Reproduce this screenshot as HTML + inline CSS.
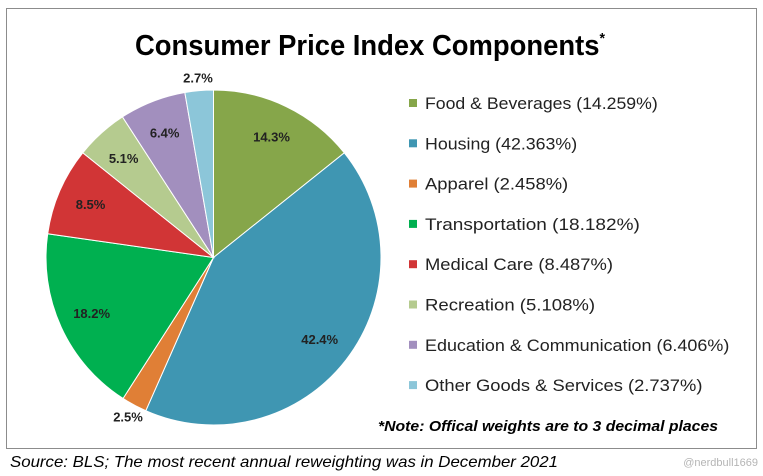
<!DOCTYPE html>
<html><head><meta charset="utf-8"><style>
body{margin:0;width:763px;height:471px;background:#fff;overflow:hidden;font-family:"Liberation Sans",sans-serif}
</style></head><body>
<svg width="763" height="471">
<rect x="6.5" y="8.5" width="750" height="440" fill="#fff" stroke="#8c8c8c"/>
<text x="370" y="55" text-anchor="middle" font-size="29" font-weight="bold" fill="#000" textLength="470" lengthAdjust="spacingAndGlyphs">Consumer Price Index Components<tspan font-size="15" dy="-12">*</tspan></text>
<g id="pie"></g>
<g id="legend"></g>
<text x="378" y="431" font-size="15" font-weight="bold" font-style="italic" fill="#000" textLength="340" lengthAdjust="spacingAndGlyphs">*Note: Offical weights are to 3 decimal places</text>
<text x="10" y="467" font-size="16" font-style="italic" fill="#000" textLength="548" lengthAdjust="spacingAndGlyphs">Source: BLS; The most recent annual reweighting was in December 2021</text>
<text x="758" y="466" font-size="11" fill="#b5b5b5" text-anchor="end">@nerdbull1669</text>
</svg>
<script>
const categories=["Food & Beverages","Housing","Apparel","Transportation","Medical Care","Recreation","Education & Communication","Other Goods & Services"];
const weights=[14.259,42.363,2.458,18.182,8.487,5.108,6.406,2.737];
const colors=["#86a64a","#3f96b2","#e07f36","#00b050","#d13536","#b5cb8f","#a28fbe","#8cc6d9"];
const NS="http://www.w3.org/2000/svg";
const cx=213.5,cy=257.5,r=167.5;
const total=weights.reduce((a,b)=>a+b,0);
const pie=document.getElementById('pie'),leg=document.getElementById('legend');
let a0=0;
function pt(a,rr){return [cx+rr*Math.sin(a),cy-rr*Math.cos(a)];}
weights.forEach((w,i)=>{
  const a1=a0+w/total*2*Math.PI;
  const p0=pt(a0,r),p1=pt(a1,r);
  const path=document.createElementNS(NS,'path');
  path.setAttribute('d',`M${cx},${cy}L${p0[0]},${p0[1]}A${r},${r} 0 ${a1-a0>Math.PI?1:0} 1 ${p1[0]},${p1[1]}Z`);
  path.setAttribute('fill',colors[i]);path.setAttribute('stroke','#fff');path.setAttribute('stroke-width','1');
  
  
  pie.appendChild(path);
  const am=(a0+a1)/2;
  const outside=w<3;
  const lp=pt(am,outside?r+13:r*0.8);
  const t=document.createElementNS(NS,'text');
  t.setAttribute('x',lp[0]);t.setAttribute('y',lp[1]+5);t.setAttribute('text-anchor','middle');
  t.setAttribute('font-size','13');t.setAttribute('font-weight','bold');t.setAttribute('fill','#222');
  t.textContent=(Math.round(w*10)/10).toFixed(1)+'%';
  
  
  pie.appendChild(t);
  a0=a1;
  const y=103+i*40.3;
  const sq=document.createElementNS(NS,'rect');
  sq.setAttribute('x',409);sq.setAttribute('y',y-4);sq.setAttribute('width',8);sq.setAttribute('height',8);sq.setAttribute('fill',colors[i]);
  
  
  leg.appendChild(sq);
  const lt=document.createElementNS(NS,'text');
  lt.setAttribute('x',425);lt.setAttribute('y',y+6);lt.setAttribute('font-size','17');lt.setAttribute('fill','#222');
  const label=categories[i]+' ('+w.toFixed(3)+'%)';
  lt.textContent=label;
  lt.setAttribute('textLength',label.length*8.95);lt.setAttribute('lengthAdjust','spacingAndGlyphs');
  
  
  leg.appendChild(lt);
});
</script>
</body></html>
